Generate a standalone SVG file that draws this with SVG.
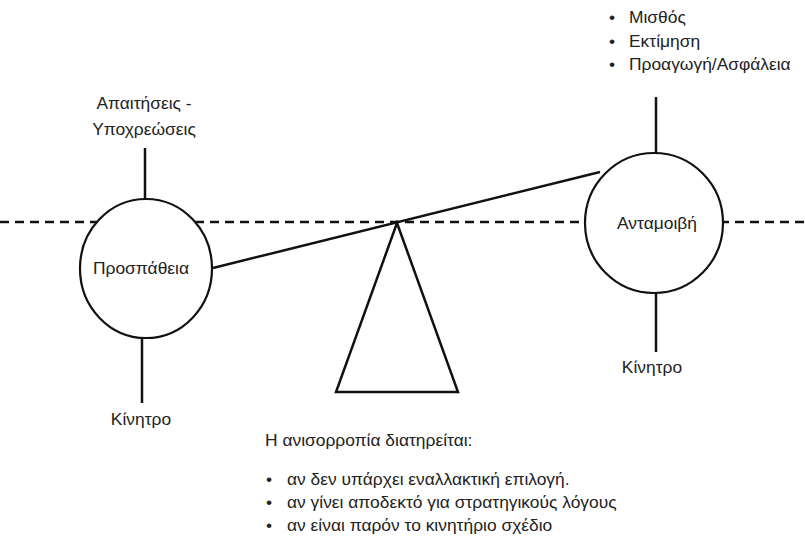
<svg xmlns="http://www.w3.org/2000/svg" width="805" height="560" viewBox="0 0 805 560">
<style>
text{font-family:"Liberation Sans","Open Sans",sans-serif;font-size:17.4px;fill:#222}
.c{text-anchor:middle}
.ln{stroke:#111;stroke-width:2.5;fill:none}
.nd{stroke:#111;stroke-width:2.2;fill:#fff}
.dash{stroke:#111;stroke-width:2.5;stroke-dasharray:9 6;fill:none}
</style>
<rect width="805" height="560" fill="#fff"/>
<g id="connectors">
<line class="dash" x1="0" y1="222" x2="805" y2="222"/>
<line class="ln" x1="145" y1="148" x2="145" y2="200"/>
<line class="ln" x1="142" y1="337" x2="142" y2="403"/>
<line class="ln" x1="656" y1="97" x2="656" y2="154"/>
<line class="ln" x1="656" y1="292" x2="656" y2="352"/>
</g>
<g id="effort">
<ellipse class="nd" cx="146" cy="268.5" rx="66" ry="69.5"/>
<text class="c" x="141" y="274">Προσπάθεια</text>
</g>
<g id="reward">
<ellipse class="nd" cx="654" cy="223" rx="69" ry="70"/>
<text class="c" x="657" y="229">Ανταμοιβή</text>
</g>
<g id="beam">
<line class="ln" x1="213" y1="268" x2="600" y2="172"/>
</g>
<g id="fulcrum">
<polygon class="ln" points="397,223 458,392 336,392"/>
</g>
<g id="demands">
<text class="c" x="144" y="109">Απαιτήσεις -</text>
<text class="c" x="144" y="135">Υποχρεώσεις</text>
</g>
<g id="incentive-left">
<text class="c" x="141" y="425">Κίνητρο</text>
</g>
<g id="incentive-right">
<text class="c" x="652" y="373">Κίνητρο</text>
</g>
<g id="reward-items">
<text x="609" y="23">•</text><text x="629" y="23">Μισθός</text>
<text x="609" y="47">•</text><text x="629" y="47">Εκτίμηση</text>
<text x="609" y="70">•</text><text x="629" y="70">Προαγωγή/Ασφάλεια</text>
</g>
<g id="imbalance">
<text x="265" y="446">Η ανισορροπία διατηρείται:</text>
<text x="266" y="485">•</text><text x="287" y="485">αν δεν υπάρχει εναλλακτική επιλογή.</text>
<text x="266" y="508">•</text><text x="287" y="508">αν γίνει αποδεκτό για στρατηγικούς λόγους</text>
<text x="266" y="531">•</text><text x="287" y="531">αν είναι παρόν το κινητήριο σχέδιο</text>
</g>
</svg>
